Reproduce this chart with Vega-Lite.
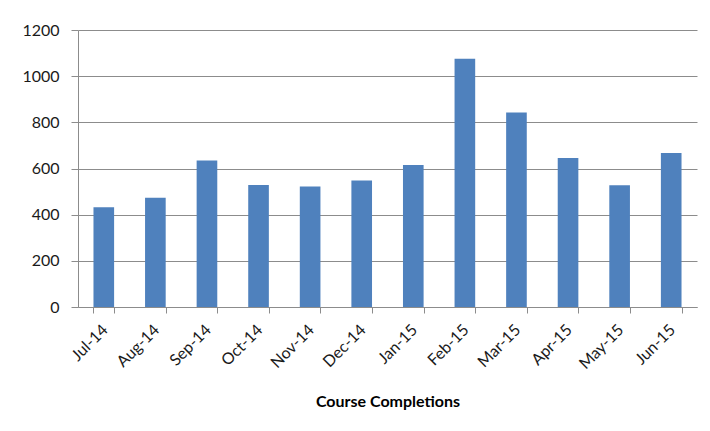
{
  "$schema": "https://vega.github.io/schema/vega-lite/v6.json",
  "autosize": {"type": "none"},
  "width": 619,
  "height": 277,
  "padding": {"left": 78, "top": 30, "right": 13, "bottom": 124},
  "background": "white",
  "config": {
    "view": {"stroke": null},
    "font": "Lato",
    "axis": {"labelFont": "Lato", "titleFont": "Lato", "labelColor": "#1a1a1a", "titleColor": "#000000"}
  },
  "data": {"values": [
    {"month": "Jul-14", "value": 432},
    {"month": "Aug-14", "value": 473},
    {"month": "Sep-14", "value": 635},
    {"month": "Oct-14", "value": 528},
    {"month": "Nov-14", "value": 522},
    {"month": "Dec-14", "value": 548},
    {"month": "Jan-15", "value": 615},
    {"month": "Feb-15", "value": 1075},
    {"month": "Mar-15", "value": 843},
    {"month": "Apr-15", "value": 645},
    {"month": "May-15", "value": 527},
    {"month": "Jun-15", "value": 667}
  ]},
  "mark": {"type": "bar", "color": "#4F81BD"},
  "encoding": {
    "x": {
      "field": "month", "type": "nominal", "sort": null,
      "scale": {"paddingInner": 0.6, "paddingOuter": 0.3},
      "axis": {
        "title": "Course Completions", "titleFontSize": 16, "titleFontWeight": "bold", "titlePadding": 22,
        "labelAngle": -45, "labelAlign": "right", "labelBaseline": "middle", "labelFontSize": 16, "labelPadding": 14,
        "labelOffset": 1,
        "tickBand": "extent", "tickSize": 6, "tickColor": "#8c8c8c", "domainColor": "#8c8c8c",
        "grid": false
      }
    },
    "y": {
      "field": "value", "type": "quantitative",
      "scale": {"domain": [0, 1200], "nice": false},
      "axis": {
        "title": null, "values": [0, 200, 400, 600, 800, 1000, 1200], "format": "d",
        "labelFontSize": 16, "labelPadding": 12, "tickSize": 7,
        "tickColor": "#8c8c8c", "domainColor": "#8c8c8c", "gridColor": "#8c8c8c", "grid": true
      }
    }
  }
}
